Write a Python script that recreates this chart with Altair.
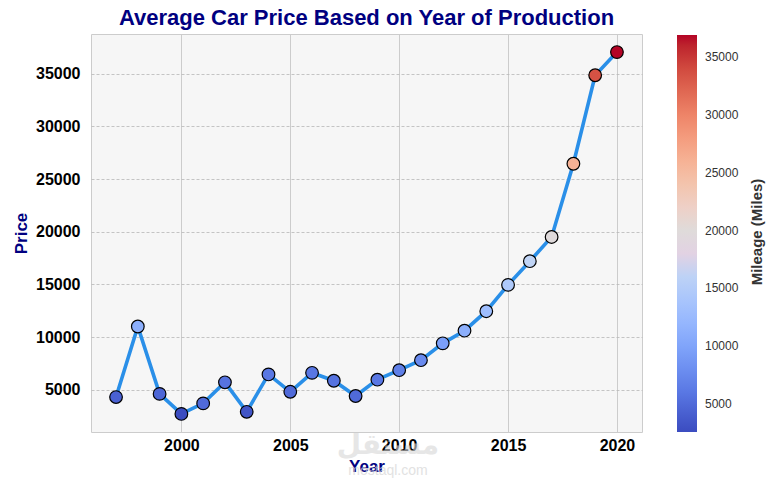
import altair as alt
import pandas as pd
import numpy as np

years = [1997, 1998, 1999, 2000, 2001, 2002, 2003, 2004, 2005, 2006, 2007, 2008,
         2009, 2010, 2011, 2012, 2013, 2014, 2015, 2016, 2017, 2018, 2019, 2020]
prices = [4300, 11000, 4600, 2700, 3700, 5700, 2900, 6450, 4800, 6600, 5850, 4400,
          5950, 6850, 7800, 9400, 10600, 12450, 14950, 17200, 19500, 26450, 34850, 37050]
mileage = [4300, 11200, 4700, 2600, 5000, 5700, 3300, 6000, 5000, 6000, 5700, 5000,
           6000, 6700, 7700, 9500, 11200, 12900, 14600, 16300, 19500, 26000, 33500, 36900]

coolwarm = ["#3b4cc0", "#5977e3", "#7b9ff9", "#9ebeff", "#c0d4f5", "#dddcdc",
            "#f2cbb7", "#f7ac8e", "#ee8468", "#d65244", "#b40426"]
cbar_ticks = [5000, 10000, 15000, 20000, 25000, 30000, 35000]
x_ticks = [2000, 2005, 2010, 2015, 2020]
y_ticks = [5000, 10000, 15000, 20000, 25000, 30000, 35000]

df = pd.DataFrame({"Year": years, "Price": prices, "Mileage": mileage})

mmin, mmax = min(mileage), max(mileage)
cdomain = list(np.linspace(mmin, mmax, len(coolwarm)))

pad_x = (max(years) - min(years)) * 0.05
pad_y = (max(prices) - min(prices)) * 0.05

FONT = "Liberation Sans"
NAVY = "#000080"

x_enc = alt.X("Year:Q",
              scale=alt.Scale(domain=[min(years) - pad_x, max(years) + pad_x], nice=False, zero=False),
              axis=alt.Axis(values=x_ticks, format="d", title="Year", grid=True,
                            gridColor="#cccccc", gridWidth=1, ticks=False, domain=False,
                            labelFont=FONT, labelFontSize=16, labelFontWeight="bold", labelColor="black",
                            labelPadding=5, titleFont=FONT, titleFontSize=17, titleFontWeight="bold",
                            titleColor=NAVY, titlePadding=5))
y_enc = alt.Y("Price:Q",
              scale=alt.Scale(domain=[min(prices) - pad_y, max(prices) + pad_y], nice=False, zero=False),
              axis=alt.Axis(values=y_ticks, format="d", title="Price", grid=True, gridColor="#b8b8b8",
                            gridDash=[3, 2], gridWidth=0.8, ticks=False, domain=False,
                            labelFont=FONT, labelFontSize=16, labelFontWeight="bold", labelColor="black",
                            labelPadding=11, titleFont=FONT, titleFontSize=17, titleFontWeight="bold",
                            titleColor=NAVY, titlePadding=5))

base = alt.Chart(df)

line = base.mark_line(color="#2a8fe8", strokeWidth=3.6).encode(x=x_enc, y=y_enc)

pts = base.mark_circle(size=160, stroke="black", strokeWidth=1.2, opacity=1).encode(
    x="Year:Q", y="Price:Q",
    fill=alt.Fill("Mileage:Q",
                  scale=alt.Scale(domain=cdomain, range=coolwarm, nice=False, zero=False),
                  legend=alt.Legend(orient="none", legendX=586, legendY=1, direction="vertical",
                                    title=None, values=cbar_ticks, format="d", gradientLength=397,
                                    gradientThickness=20, gradientStrokeWidth=0,
                                    labelFont=FONT, labelFontSize=12, labelColor="#333333",
                                    labelOffset=8)))

cbar_title = alt.Chart(pd.DataFrame({"t": ["Mileage (Miles)"]})).mark_text(
    angle=270, font=FONT, fontSize=15, fontWeight="bold", color="#333333",
    align="center", baseline="middle").encode(text="t:N", x=alt.value(666), y=alt.value(198))

wm = alt.Chart(pd.DataFrame({"t": ["مستقل"]})).mark_text(
    font="DejaVu Sans", fontSize=28, fontWeight="bold", color="#d6d6d6", opacity=0.6,
    align="center", baseline="middle").encode(text="t:N", x=alt.value(297), y=alt.value(412))
wm2 = alt.Chart(pd.DataFrame({"t": ["mostaql.com"]})).mark_text(
    font=FONT, fontSize=14, color="#d6d6d6", opacity=0.7,
    align="center", baseline="middle").encode(text="t:N", x=alt.value(297), y=alt.value(437))

chart = alt.layer(line, pts, wm, wm2, cbar_title).properties(
    width=551, height=398,
    title=alt.TitleParams("Average Car Price Based on Year of Production", font=FONT, fontSize=22,
                          fontWeight="bold", color=NAVY, anchor="middle", offset=4),
    autosize=alt.AutoSizeParams(type="none"),
    padding={"left": 83, "top": 26, "right": 125, "bottom": 50},
    background="white",
).configure_view(fill="#f6f6f6", stroke="#cccccc", strokeWidth=1)

chart.save("out.html", embed_options={"renderer": "svg", "actions": False})
